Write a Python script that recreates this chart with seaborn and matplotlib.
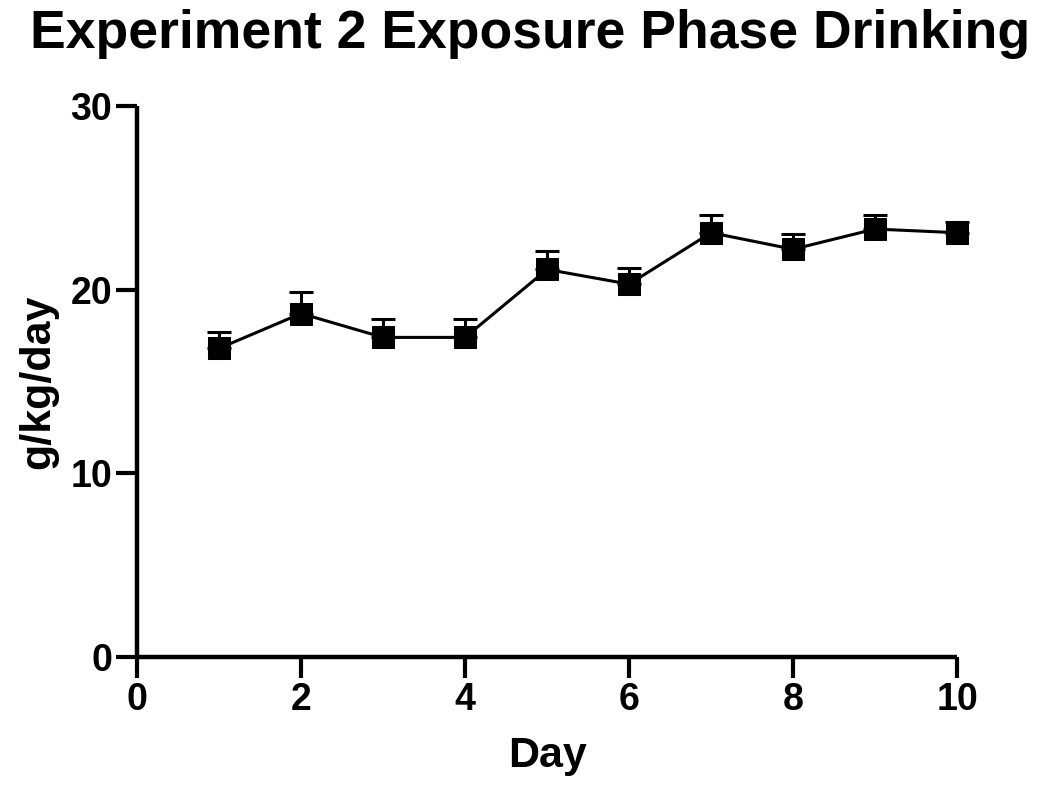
import matplotlib
matplotlib.use("Agg")
import matplotlib.pyplot as plt
import seaborn as sns
import pandas as pd
import numpy as np

days = [1, 2, 3, 4, 5, 6, 7, 8, 9, 10]
intake = [16.8, 18.7, 17.4, 17.4, 21.1, 20.3, 23.1, 22.2, 23.3, 23.1]
sem = [0.87, 1.15, 1.0, 1.0, 0.98, 0.87, 0.98, 0.85, 0.76, 0.6]
xticks = [0, 2, 4, 6, 8, 10]
yticks = [0, 10, 20, 30]

sns.set_theme(style="ticks")
plt.rcParams['font.family'] = ['Liberation Sans', 'DejaVu Sans']
plt.rcParams['font.weight'] = 'bold'
plt.rcParams['text.color'] = 'black'
plt.rcParams['axes.labelcolor'] = 'black'
plt.rcParams['xtick.color'] = 'black'
plt.rcParams['ytick.color'] = 'black'

df = pd.DataFrame({"Day": days, "g/kg/day": intake})

fig = plt.figure(figsize=(10.5, 7.88), dpi=100)
ax = fig.add_axes([0.1305, 0.1663, 0.7810, 0.6992])

ax.errorbar(days, intake, yerr=[np.zeros(len(sem)), sem], fmt='none',
            ecolor='black', elinewidth=2.2, capsize=8.5, capthick=2.2, zorder=2,
            clip_on=False)
sns.lineplot(data=df, x="Day", y="g/kg/day", ax=ax, color='black', linewidth=2.2,
             marker='s', markersize=16, markeredgecolor='black',
             markerfacecolor='black', zorder=3, clip_on=False)

ax.set_xlim(0, 10)
ax.set_ylim(0, 30)
ax.set_xticks(xticks)
ax.set_yticks(yticks)
ax.set_xticklabels([str(t) for t in xticks], fontsize=27, fontweight='bold', color='black')
ax.set_yticklabels([str(t) for t in yticks], fontsize=27, fontweight='bold', color='black')
ax.tick_params(axis='both', which='major', length=15, width=3, direction='out',
               pad=3, colors='black')
for s in ['top', 'right']:
    ax.spines[s].set_visible(False)
for s in ['left', 'bottom']:
    ax.spines[s].set_linewidth(3.2)
    ax.spines[s].set_color('black')
    ax.spines[s].set_capstyle('butt')

ax.set_xlabel("Day", fontsize=31, fontweight='bold', labelpad=13, color='black')
ax.set_ylabel("g/kg/day", fontsize=31, fontweight='bold', labelpad=9, color='black')
fig.suptitle("Experiment 2 Exposure Phase Drinking", fontsize=38.5,
             fontweight='bold', x=0.505, y=0.988, va='top', color='black')

fig.savefig("out.png", dpi=100, facecolor='white')
